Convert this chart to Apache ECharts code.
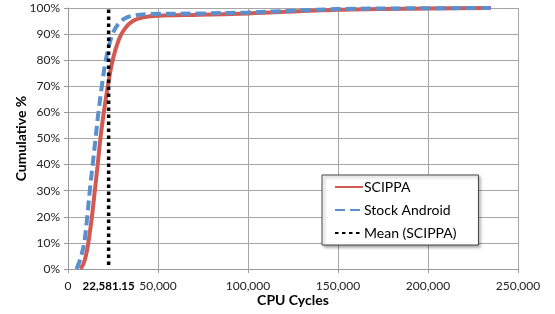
<!DOCTYPE html>
<html>
<head>
<meta charset="utf-8">
<script src="https://cdn.jsdelivr.net/npm/echarts@6/dist/echarts.min.js"></script>
<style>
  html, body { margin: 0; padding: 0; background: #fff; }
  #chart { width: 555px; height: 314px; }
</style>
</head>
<body>
<div id="chart"></div>
<script>
// CDF points: [cpu cycles, cumulative %]
var scippaData = [
    [6900, 0], [8600, 2], [9900, 5], [11300, 10], [13300, 20], [14900, 30], [16500, 40],
    [18000, 50], [19900, 60], [22100, 70], [24800, 80], [28300, 88], [31500, 92],
    [36000, 95], [42000, 96.4], [50000, 97], [73000, 97.4], [100000, 97.9],
    [150000, 99.3], [200000, 99.8], [235000, 100]
];
var stockData = [
    [4700, 0], [6900, 4], [9000, 10], [10700, 20], [12100, 30], [13700, 40],
    [15300, 50], [16900, 60], [18800, 70], [21000, 80], [24200, 89], [27500, 93.5],
    [31500, 96], [37000, 97.2], [45600, 97.7], [73000, 97.9], [100000, 98.3],
    [150000, 99.6], [200000, 99.9], [235000, 100]
];
var meanValue = 22581.15;
var xTicks = [0, meanValue, 50000, 100000, 150000, 200000, 250000];
var seriesNames = ['SCIPPA', 'Stock Android', 'Mean (SCIPPA)'];

var font = 'Lato, "Open Sans", sans-serif';

var chart = echarts.init(document.getElementById('chart'));
chart.setOption({
    animation: false,
    textStyle: { fontFamily: font },
    grid: { left: 68, right: 37, top: 8, bottom: 45, containLabel: false, outerBoundsMode: 'none' },
    legend: {
        orient: 'vertical',
        left: 322,
        top: 175,
        width: 158,
        padding: [5, 22, 5, 12],
        itemGap: 9,
        itemWidth: 28,
        itemHeight: 14,
        backgroundColor: '#fff',
        borderColor: '#444',
        borderWidth: 1,
        borderRadius: 0,
        shadowColor: 'rgba(0,0,0,0.35)',
        shadowBlur: 3,
        shadowOffsetX: 2,
        shadowOffsetY: 2,
        itemStyle: { opacity: 0 },
        textStyle: { fontSize: 14, color: '#000', fontFamily: font, padding: [0, 0, 0, -4] },
        data: seriesNames
    },
    xAxis: [
        {
            type: 'value',
            min: 0,
            max: 250000,
            interval: 10000,
            name: 'CPU Cycles',
            nameLocation: 'middle',
            nameGap: 24,
            nameMoveOverlap: false,
            nameTextStyle: { fontSize: 14, fontWeight: 'bold', color: '#000' },
            axisLine: { show: true, lineStyle: { color: '#999' } },
            axisTick: { show: true, customValues: [0, 50000, 100000, 150000, 200000, 250000], length: 4, lineStyle: { color: '#999' } },
            axisLabel: {
                customValues: xTicks,
                fontSize: 12,
                color: '#222',
                margin: 11,
                formatter: function (v) {
                    if (Math.abs(v - meanValue) < 1) {
                        return '{b|' + v.toLocaleString('en-US', { minimumFractionDigits: 2 }) + '}';
                    }
                    return v.toLocaleString('en-US');
                },
                rich: { b: { fontWeight: 'bold', fontSize: 11.5, color: '#000' } }
            },
            splitLine: { show: true, lineStyle: { color: '#c8c8c8', type: [4, 3] } }
        },
        {
            type: 'value',
            min: 0,
            max: 250000,
            interval: 50000,
            position: 'bottom',
            axisLine: { show: false },
            axisTick: { show: false },
            axisLabel: { show: false },
            splitLine: { show: true, lineStyle: { color: '#a6a6a6' } }
        }
    ],
    yAxis: {
        type: 'value',
        min: 0,
        max: 100,
        interval: 10,
        name: 'Cumulative %',
        nameLocation: 'middle',
        nameGap: 40,
        nameMoveOverlap: false,
        nameTextStyle: { fontSize: 14, fontWeight: 'bold', color: '#000' },
        axisLine: { show: true, lineStyle: { color: '#999' } },
        axisTick: { show: true, length: 4, lineStyle: { color: '#999' } },
        axisLabel: { formatter: '{value}%', fontSize: 12, color: '#222', margin: 8 },
        splitLine: { lineStyle: { color: '#a6a6a6' } }
    },
    series: [
        {
            name: seriesNames[0],
            type: 'line',
            data: scippaData,
            smooth: 0.35,
            showSymbol: false,
            symbol: 'none',
            color: '#D25A52',
            lineStyle: { width: 4, color: '#D25A52' },
            z: 3
        },
        {
            name: seriesNames[1],
            type: 'line',
            data: stockData,
            smooth: 0.35,
            showSymbol: false,
            symbol: 'none',
            color: '#5B90CF',
            lineStyle: { width: 4, color: '#5B90CF', type: [10, 5] },
            z: 4
        },
        {
            name: seriesNames[2],
            type: 'line',
            data: [[meanValue, 1.5], [meanValue, 100]],
            showSymbol: false,
            symbol: 'none',
            color: '#000',
            lineStyle: { width: 3.5, color: '#000', type: [3.5, 3.5] },
            z: 5
        }
    ]
});
</script>
</body>
</html>
